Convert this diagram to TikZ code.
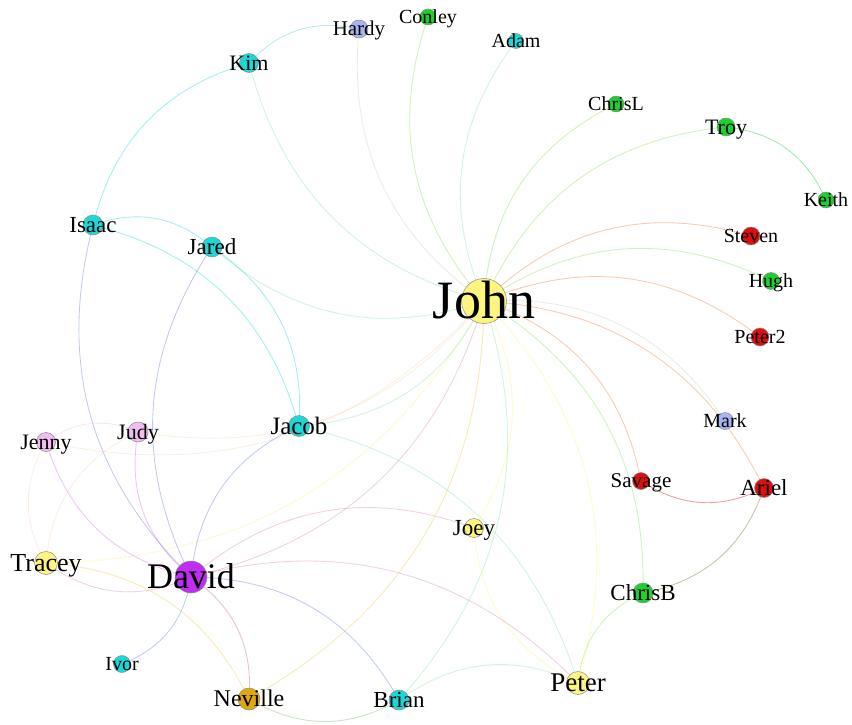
\documentclass[tikz,border=0pt]{standalone}
\usepackage{fontspec}
\setmainfont{Liberation Serif}
\usetikzlibrary{backgrounds}

% community colours
\definecolor{cy}{HTML}{1ED8D8}
\definecolor{gr}{HTML}{1CD12E}
\definecolor{rd}{HTML}{DD1010}
\definecolor{ye}{HTML}{FEF580}
\definecolor{pk}{HTML}{F2BEF2}
\definecolor{pw}{HTML}{A8B4F0}
\definecolor{pu}{HTML}{BE2EF0}
\definecolor{or}{HTML}{E0A80A}

\tikzset{
  vert/.style={circle, draw=black!45, line width=0.5pt, inner sep=0pt, minimum size=#1},
  lbl/.style={anchor=base, inner sep=0pt, text=black},
  link/.style={line width=0.85pt, opacity=0.42, bend right=30},
}

% person: name, x, y, diameter, colour, font size
\newcommand\person[6]{%
  \node[vert=#4pt, fill=#5] (#1) at (#2,#3) {};
  \node[lbl, font=\fontsize{#6}{#6}\selectfont, yshift=-0.331*#6pt] (#1-label) at (#2,#3) {#1};
}
% link: from, to, colour of from, colour of to
\newcommand\link[4]{\draw[link, draw=#3!50!#4] (#1.center) to (#2.center);}

\begin{document}
\begin{tikzpicture}[x=1pt, y=-1pt]
\useasboundingbox (0,0) rectangle (852,725);

\person{John}{484}{301}{45}{ye}{54}
\person{David}{191}{577}{32}{pu}{36}
\person{Peter}{578}{683}{23}{ye}{27}
\person{Tracey}{46}{563}{23}{ye}{26}
\person{Jacob}{299}{426}{21}{cy}{25}
\person{Joey}{474}{528}{19}{ye}{23}
\person{Ariel}{764}{488}{19}{rd}{23}
\person{Savage}{641}{481}{17}{rd}{21}
\person{ChrisB}{643}{593}{20}{gr}{23}
\person{Brian}{399}{700}{20}{cy}{23}
\person{Neville}{249}{699}{22}{or}{24}
\person{Jared}{212}{247}{20}{cy}{23}
\person{Isaac}{93}{225}{20}{cy}{23}
\person{Kim}{249}{63}{19}{cy}{22}
\person{Hardy}{359}{29}{18}{pw}{21}
\person{Conley}{428}{17}{16}{gr}{20}
\person{Adam}{516}{41}{15}{cy}{20}
\person{ChrisL}{616}{104}{16}{gr}{20}
\person{Troy}{726}{127}{18}{gr}{22}
\person{Keith}{826}{200}{16}{gr}{20}
\person{Steven}{751}{236}{18}{rd}{20}
\person{Hugh}{771}{281}{17}{gr}{20}
\person{Peter2}{760}{337}{18}{rd}{20}
\person{Mark}{725}{421}{17}{pw}{20}
\person{Jenny}{46}{442}{19}{pk}{22}
\person{Judy}{138}{432}{20}{pk}{22}
\person{Ivor}{122}{664}{17}{cy}{20}

\begin{pgfonlayer}{background}
\fill[white] (0,0) rectangle (852,725);
% ties to John
\link{Kim}{John}{cy}{ye}
\link{Hardy}{John}{pw}{ye}
\link{Conley}{John}{gr}{ye}
\link{Adam}{John}{cy}{ye}
\link{ChrisL}{John}{gr}{ye}
\link{Troy}{John}{gr}{ye}
\link{Steven}{John}{rd}{ye}
\link{Hugh}{John}{gr}{ye}
\link{Peter2}{John}{rd}{ye}
\link{Mark}{John}{pw}{ye}
\link{Ariel}{John}{rd}{ye}
\link{Savage}{John}{rd}{ye}
\link{ChrisB}{John}{gr}{ye}
\link{Peter}{John}{ye}{ye}
\link{Joey}{John}{ye}{ye}
\link{Brian}{John}{cy}{ye}
\link{Neville}{John}{or}{ye}
\link{Tracey}{John}{ye}{ye}
\link{David}{John}{pu}{ye}
\link{Jacob}{John}{cy}{ye}
\link{Jenny}{John}{pk}{ye}
\link{Judy}{John}{pk}{ye}
\link{Jared}{John}{cy}{ye}
% other ties
\link{Hardy}{Kim}{pw}{cy}
\link{Kim}{Isaac}{cy}{cy}
\link{Keith}{Troy}{gr}{gr}
\link{Savage}{Ariel}{rd}{rd}
\link{ChrisB}{Ariel}{gr}{rd}
\link{ChrisB}{Peter}{gr}{ye}
\link{Joey}{Peter}{ye}{ye}
\link{Peter}{Jacob}{ye}{cy}
\link{Peter}{David}{ye}{pu}
\link{Joey}{David}{ye}{pu}
\link{Jared}{Isaac}{cy}{cy}
\link{Jacob}{Isaac}{cy}{cy}
\link{Jacob}{Jared}{cy}{cy}
\link{Isaac}{David}{cy}{pu}
\link{Jared}{David}{cy}{pu}
\link{Jacob}{David}{cy}{pu}
\link{Jenny}{David}{pk}{pu}
\link{Judy}{David}{pk}{pu}
\link{Judy}{Jenny}{pk}{pk}
\link{Jenny}{Tracey}{pk}{ye}
\link{Judy}{Tracey}{pk}{ye}
\link{Tracey}{David}{ye}{pu}
\link{Neville}{Tracey}{or}{ye}
\link{Ivor}{David}{cy}{pu}
\link{Neville}{David}{or}{pu}
\link{Brian}{David}{cy}{pu}
\link{Neville}{Brian}{or}{cy}
\link{Peter}{Brian}{ye}{cy}
\end{pgfonlayer}
\end{tikzpicture}
\end{document}
